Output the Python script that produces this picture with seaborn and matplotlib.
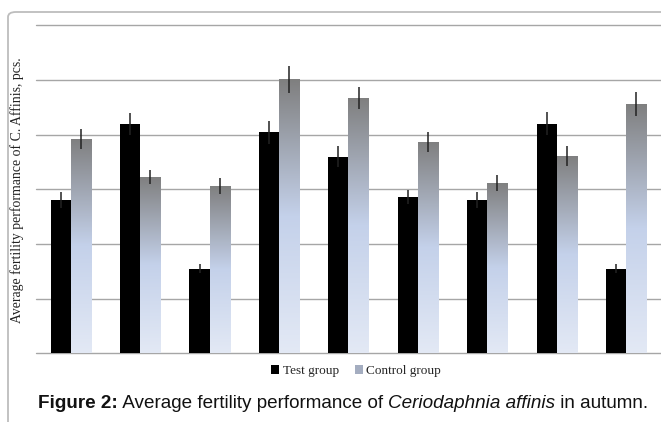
import numpy as np
import pandas as pd
import seaborn as sns
import matplotlib
matplotlib.use("Agg")
import matplotlib.pyplot as plt
from matplotlib.colors import LinearSegmentedColormap
from matplotlib.patches import FancyBboxPatch, Patch

# ---- data (grid units) ----
groups = ["1", "2", "3", "4", "5", "6", "7", "8", "9"]
test_vals = [2.80, 4.20, 1.55, 4.04, 3.60, 2.86, 2.80, 4.20, 1.55]
control_vals = [3.92, 3.22, 3.06, 5.01, 4.67, 3.87, 3.12, 3.61, 4.56]
test_err = [0.15, 0.20, 0.09, 0.21, 0.20, 0.13, 0.15, 0.21, 0.09]
control_err = [0.18, 0.13, 0.15, 0.25, 0.21, 0.18, 0.15, 0.18, 0.22]
series = ["Test group", "Control group"]
y_ticks = [0, 1, 2, 3, 4, 5, 6]

df = pd.DataFrame({
    "group": groups * 2,
    "series": [series[0]] * len(groups) + [series[1]] * len(groups),
    "value": test_vals + control_vals,
})

sns.set_style("white")
W, H = 661, 422
fig = plt.figure(figsize=(W / 100, H / 100), dpi=100)
ax = fig.add_axes([36 / W, (H - 353.3) / H, 1 - 36 / W, (353.3 - 25.3) / H])

sns.barplot(data=df, x="group", y="value", hue="series", hue_order=series,
            palette=["#000000", "#9aa3b5"], width=0.58, errorbar=None,
            legend=False, ax=ax, saturation=1, linewidth=0)

cmap = LinearSegmentedColormap.from_list(
    "ctrl", [(0.0, "#7f7f7f"), (0.5, "#c4d1ea"), (1.0, "#e3e9f5")])
grad = np.linspace(0, 1, 256).reshape(-1, 1)

n = len(groups)
patches = ax.patches[:2 * n]
test_patches = patches[:n]
ctrl_patches = patches[n:]

for p in ctrl_patches:
    x, w, h = p.get_x(), p.get_width(), p.get_height()
    p.set_facecolor("none")
    im = ax.imshow(grad, cmap=cmap, aspect="auto", extent=[x, x + w, 0, h],
                   origin="upper", zorder=2, interpolation="bilinear")
    im.set_clip_path(p)

for plist, vals, errs in ((test_patches, test_vals, test_err),
                          (ctrl_patches, control_vals, control_err)):
    xs = [p.get_x() + p.get_width() / 2 for p in plist]
    ax.errorbar(xs, vals, yerr=errs, fmt="none", ecolor="#222222",
                elinewidth=1.1, capsize=0, zorder=4)

ax.set_xlim(-0.5, len(groups) - 0.5)
ax.set_ylim(y_ticks[0], y_ticks[-1])
ax.set_yticks(y_ticks)
ax.set_yticklabels([])
ax.set_xticks([])
ax.set_xlabel("")
ax.set_ylabel("")
ax.tick_params(left=False, bottom=False)
for s in ax.spines.values():
    s.set_visible(False)
for yv in y_ticks:
    ax.axhline(yv, color="#a6a6a6", lw=1.0, zorder=0.5, clip_on=False)

fig.text(17 / W, 1 - 190 / H, "Average fertility performance of C. Affinis, pcs.",
         rotation=90, ha="center", va="center", fontsize=9.9,
         family="Liberation Serif", color="#222222")

handles = [Patch(facecolor="#000000", edgecolor="none", label=series[0]),
           Patch(facecolor="#a4adc0", edgecolor="none", label=series[1])]
fig.legend(handles=handles, loc="center", bbox_to_anchor=(356 / W, 1 - 371 / H),
           ncol=2, frameon=False, handlelength=0.6, handleheight=0.6,
           handletextpad=0.3, columnspacing=1.2,
           prop={"family": "Liberation Serif", "size": 9.5})

cap_parts = [("Figure 2:", "bold", "normal"),
             (" Average fertility performance of ", "normal", "normal"),
             ("Ceriodaphnia affinis", "normal", "italic"),
             (" in autumn.", "normal", "normal")]
fig.canvas.draw()
renderer = fig.canvas.get_renderer()
x0 = 38
for txt, wt, st in cap_parts:
    t = fig.text(x0 / W, 1 - 408 / H, txt, ha="left", va="baseline",
                 fontsize=13.6, family="Liberation Sans", weight=wt, style=st,
                 color="#111111")
    bb = t.get_window_extent(renderer=renderer)
    x0 += bb.width

border = FancyBboxPatch((8 / W, -0.2), 1.2, (H - 12) / H + 0.2,
                        boxstyle="round,pad=0,rounding_size=0.012",
                        transform=fig.transFigure, facecolor="none",
                        edgecolor="#bdbdbd", lw=1.3, zorder=10)
fig.patches.append(border)

fig.savefig("out.png", dpi=100)
